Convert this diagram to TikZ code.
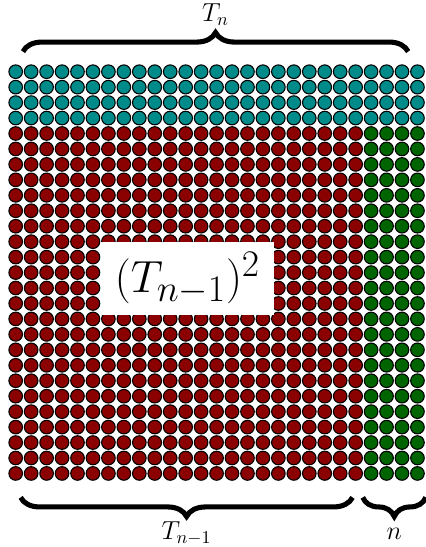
\documentclass[tikz,border=0pt]{standalone}
\usepackage{amsmath}
\usetikzlibrary{positioning, decorations.pathreplacing}
\definecolor{tealdot}{HTML}{008B8B}
\definecolor{reddot}{HTML}{8B0000}
\definecolor{greendot}{HTML}{006400}
\tikzset{
  dot/.style={draw=black, line width=0.6pt},
  brc/.style={decorate, decoration={brace, amplitude=0.37cm}, line width=2.8pt},
  lbl/.style={font=\fontsize{14}{17}\selectfont, inner sep=0pt, anchor=base},
}

\begin{document}
\begin{tikzpicture}[x=0.3cm, y=0.3cm]
  \useasboundingbox (-1.016,-30.76) rectangle (26.49,4.64);
  % top rows
  \foreach \i in {0,...,26}
    \foreach \j in {0,...,3}
      \draw[dot, fill=tealdot] (\i,-\j) circle (0.44);
  % big square
  \foreach \i in {0,...,22}
    \foreach \j in {4,...,26}
      \draw[dot, fill=reddot] (\i,-\j) circle (0.44);
  % side columns
  \foreach \i in {23,...,26}
    \foreach \j in {4,...,26}
      \draw[dot, fill=greendot] (\i,-\j) circle (0.44);

  \node[fill=white, inner sep=0pt, minimum width=3.36cm, minimum height=1.42cm,
        font=\fontsize{29.5}{35}\selectfont] (sq) at (11.12,-13.37) {$(T_{n-1})^2$};

  \coordinate (topL) at (0.47,1.3);
  \coordinate (topR) at (25.4,1.3);
  \coordinate (botL) at (0.32,-27.55);
  \coordinate (botR) at (21.8,-27.55);
  \coordinate (sideL) at (22.46,-27.55);
  \coordinate (sideR) at (26.54,-27.55);

  \draw[brc] (topL) -- node[lbl, yshift=0.58cm] (tn) {$T_n$} (topR);
  \draw[brc] (botR) -- node[lbl, yshift=-0.82cm] (tnm) {$T_{n-1}$} (botL);
  \draw[brc] (sideR) -- node[lbl, yshift=-0.82cm] (nn) {$n$} (sideL);
\end{tikzpicture}
\end{document}
